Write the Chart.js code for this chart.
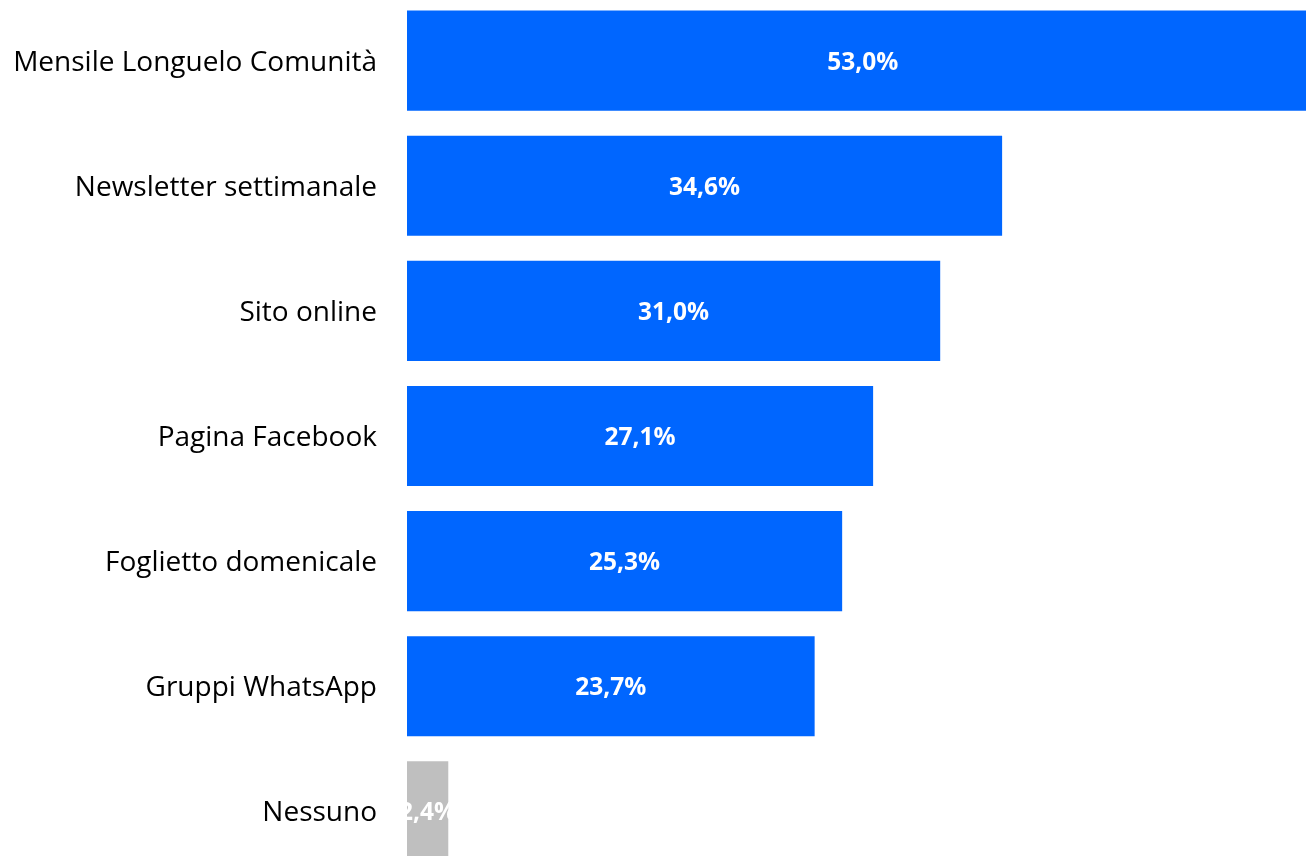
<!DOCTYPE html>
<html>
<head>
<meta charset="utf-8">
<script src="https://cdn.jsdelivr.net/npm/chart.js@4"></script>
<style>
    html, body { margin: 0; padding: 0; background: #fff; overflow: hidden; }
    #chart { position: absolute; left: 0; top: -2px; }
</style>
</head>
<body>
<canvas id="chart" width="1306" height="876"></canvas>
<script>
// Chart data
const categories = [
    'Mensile Longuelo Comunità',
    'Newsletter settimanale',
    'Sito online',
    'Pagina Facebook',
    'Foglietto domenicale',
    'Gruppi WhatsApp',
    'Nessuno'
];
const values = [53.0, 34.6, 31.0, 27.1, 25.3, 23.7, 2.4];
const barColors = ['#0066FF', '#0066FF', '#0066FF', '#0066FF', '#0066FF', '#0066FF', '#BFBFBF'];

const FONT = "'Open Sans', 'Liberation Sans', sans-serif";

// Draw the percentage labels in the middle of each bar
const valueLabels = {
    id: 'valueLabels',
    afterDatasetsDraw(chart) {
        const ctx = chart.ctx;
        const meta = chart.getDatasetMeta(0);
        ctx.save();
        ctx.fillStyle = '#ffffff';
        ctx.font = 'bold 24.5px ' + FONT;
        ctx.textAlign = 'center';
        ctx.textBaseline = 'middle';
        meta.data.forEach(function(bar, i) {
            const cx = (bar.base + bar.x) / 2;
            const txt = values[i].toFixed(1).replace('.', ',') + '%';
            ctx.fillText(txt, cx, bar.y + 2);
        });
        ctx.restore();
    }
};

new Chart(document.getElementById('chart'), {
    type: 'bar',
    data: {
        labels: categories,
        datasets: [{
            data: values,
            backgroundColor: barColors,
            borderWidth: 0,
            barPercentage: 0.8,
            categoryPercentage: 1.0
        }]
    },
    options: {
        indexAxis: 'y',
        responsive: false,
        animation: false,
        layout: { padding: 0, autoPadding: false },
        plugins: {
            legend: { display: false },
            tooltip: { enabled: false }
        },
        scales: {
            x: {
                display: false,
                min: 0,
                max: 899 / 17.2
            },
            y: {
                grid: { display: false, drawTicks: false },
                border: { display: false },
                ticks: {
                    color: '#000000',
                    padding: 30,
                    labelOffset: 2,
                    font: { family: FONT, size: 28 }
                },
                afterFit: function(scale) {
                    scale.width = 407;
                    scale.paddingTop = 0;
                    scale.paddingBottom = 0;
                }
            }
        }
    },
    plugins: [valueLabels]
});
</script>
</body>
</html>
